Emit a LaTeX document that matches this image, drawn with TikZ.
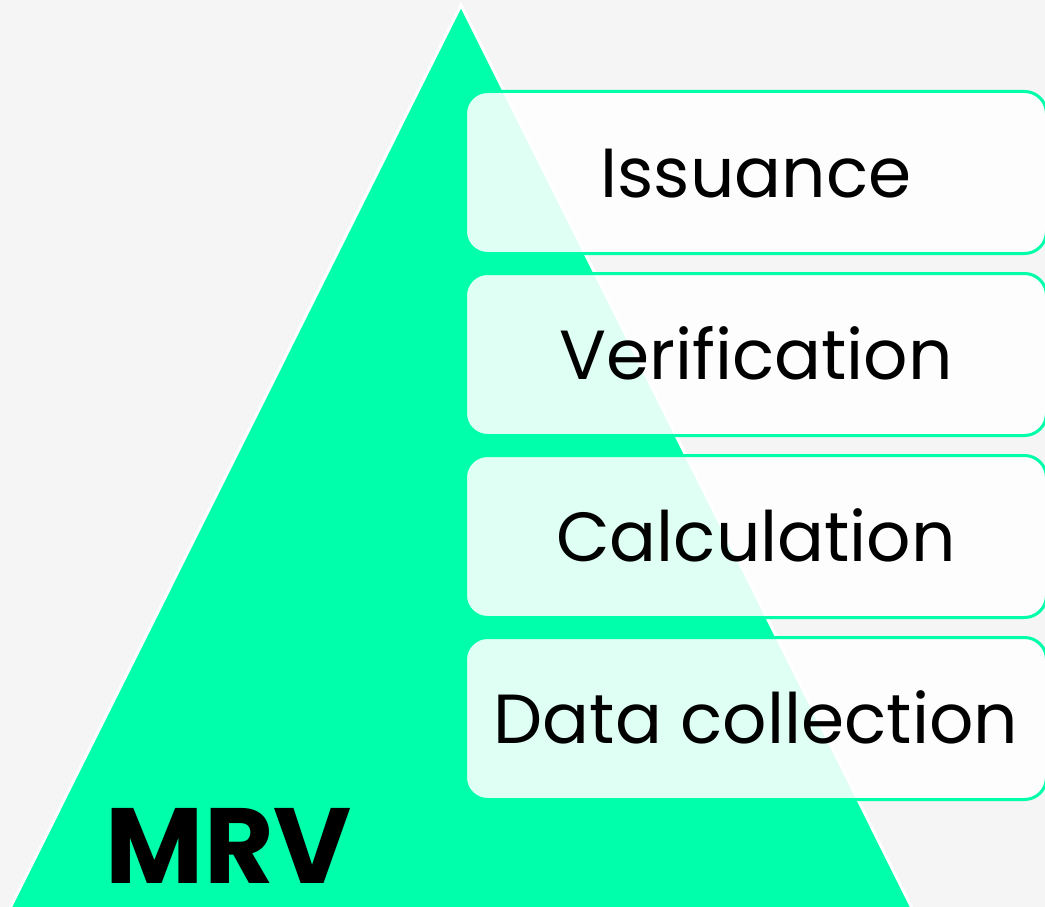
\documentclass[tikz,border=0pt]{standalone}
\usepackage{fontspec}
\setmainfont{Poppins}
\usetikzlibrary{positioning}
\definecolor{mrvgreen}{HTML}{00FFAA}
\definecolor{paper}{HTML}{F5F5F5}

\begin{document}
\begin{tikzpicture}[x=1pt,y=1pt,
    stage/.style={draw=mrvgreen,line width=3pt,rounded corners=22pt,
      fill=white,fill opacity=0.88,text opacity=1,
      minimum width=581pt,minimum height=162pt,
      text height=49pt,text depth=0pt,
      font=\fontsize{69.5}{80}\selectfont}]
    \useasboundingbox (0,0) rectangle (1045,-907);
    \clip (0,0) rectangle (1045,-907);
    \fill[paper] (0,0) rectangle (1045,-907);

    % pyramid
    \filldraw[fill=mrvgreen,draw=white,line width=3pt]
      (461,-5) -- (8,-912) -- (914,-912) -- cycle;

    % steps, top to bottom
    \node[stage] (issuance) at (756,-172.5) {Issuance};
    \node[stage,below=17pt of issuance]     (verification) {Verification};
    \node[stage,below=17pt of verification] (calculation)  {Calculation};
    \node[stage,below=17pt of calculation]  (collection)   {Data collection};

    \node[anchor=base,font=\fontsize{107}{120}\selectfont\bfseries] (mrv) at (229,-883) {MRV};
  \end{tikzpicture}
\end{document}
